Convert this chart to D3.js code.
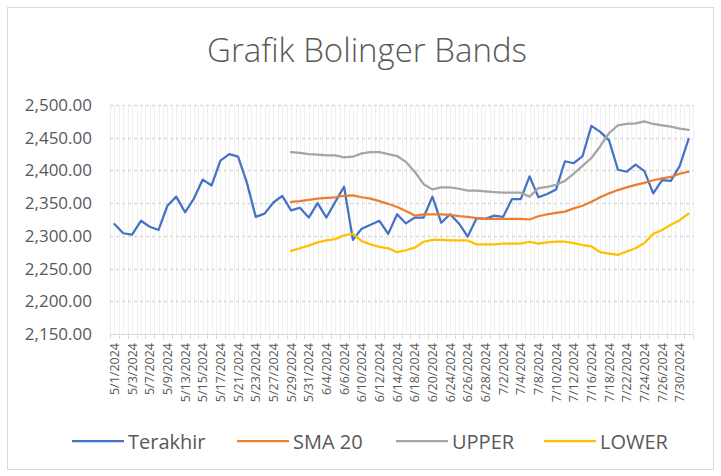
<!DOCTYPE html>
<html>
<head>
<meta charset="utf-8">
<script src="https://cdn.jsdelivr.net/npm/d3@7"></script>
<style>
  body { margin: 0; background: #fff; }
  svg { display: block; }
  text { font-family: "Open Sans", "Liberation Sans", sans-serif; fill: #595959; }
</style>
</head>
<body>
<div class="chart"></div>
<script>
// trading days, May - July 2024
var dates = ["5/1/2024","5/2/2024","5/3/2024","5/6/2024","5/7/2024","5/8/2024","5/9/2024","5/10/2024",
  "5/13/2024","5/14/2024","5/15/2024","5/16/2024","5/17/2024","5/20/2024","5/21/2024","5/22/2024",
  "5/23/2024","5/24/2024","5/27/2024","5/28/2024","5/29/2024","5/30/2024","5/31/2024","6/3/2024",
  "6/4/2024","6/5/2024","6/6/2024","6/7/2024","6/10/2024","6/11/2024","6/12/2024","6/13/2024",
  "6/14/2024","6/17/2024","6/18/2024","6/19/2024","6/20/2024","6/21/2024","6/24/2024","6/25/2024",
  "6/26/2024","6/27/2024","6/28/2024","7/1/2024","7/2/2024","7/3/2024","7/4/2024","7/5/2024",
  "7/8/2024","7/9/2024","7/10/2024","7/11/2024","7/12/2024","7/15/2024","7/16/2024","7/17/2024",
  "7/18/2024","7/19/2024","7/22/2024","7/23/2024","7/24/2024","7/25/2024","7/26/2024","7/29/2024",
  "7/30/2024","7/31/2024"];

var terakhir = [2318,2304,2302,2323,2314,2309,2346,2360,2336,2357,2386,2377,2415,2425,2421,2381,
  2329,2334,2351,2361,2339,2343,2328,2350,2328,2352,2375,2294,2311,2317,2323,2303,
  2333,2319,2328,2328,2360,2320,2333,2319,2299,2327,2326,2331,2329,2356,2356,2391,
  2359,2364,2371,2414,2411,2422,2468,2459,2446,2401,2398,2409,2399,2365,2385,2384,
  2407,2448];

// first 20 days have no moving average
var sma20 = [null,null,null,null,null,null,null,null,null,null,null,null,null,null,null,null,
  null,null,null,null,2352,2353,2355,2357,2358,2359,2361,2362,2359,2357,2353,2349,
  2344,2338,2331,2333,2333,2333,2332,2330,2329,2327,2326,2326,2326,2326,2326,2325,
  2330,2333,2335,2337,2342,2346,2352,2359,2365,2370,2374,2378,2381,2385,2388,2390,
  2395,2398];

var upper = [null,null,null,null,null,null,null,null,null,null,null,null,null,null,null,null,
  null,null,null,null,2428,2427,2425,2424,2423,2423,2420,2421,2426,2428,2428,2425,
  2422,2413,2398,2379,2371,2374,2374,2372,2369,2369,2368,2367,2366,2366,2366,2360,
  2373,2375,2378,2384,2395,2407,2419,2437,2457,2469,2471,2472,2475,2471,2469,2467,
  2464,2462];

var lower = [null,null,null,null,null,null,null,null,null,null,null,null,null,null,null,null,
  null,null,null,null,2277,2281,2285,2290,2293,2295,2301,2303,2292,2287,2283,2281,
  2275,2278,2282,2291,2294,2294,2293,2293,2293,2287,2287,2287,2288,2288,2288,2291,
  2288,2290,2291,2291,2289,2286,2284,2275,2273,2271,2276,2281,2289,2303,2309,2317,
  2324,2334];

var yTicks = [2150,2200,2250,2300,2350,2400,2450,2500];

var series = [
  {name: "Terakhir", values: terakhir, color: "#4472c4"},
  {name: "SMA 20", values: sma20, color: "#ed7d31"},
  {name: "UPPER", values: upper, color: "#a5a5a5"},
  {name: "LOWER", values: lower, color: "#ffc000"}
];

var width = 721, height = 476;
var plotL = 110, plotR = 693, plotT = 105, plotB = 334;

var svg = d3.select(".chart").append("svg")
  .attr("width", width)
  .attr("height", height);

// outer chart frame
svg.append("rect")
  .attr("x", 7.5).attr("y", 7.5)
  .attr("width", 706).attr("height", 462)
  .attr("fill", "#fff")
  .attr("stroke", "#d9d9d9");

svg.append("text")
  .attr("x", 367).attr("y", 62)
  .attr("text-anchor", "middle")
  .style("font-size", "33px")
  .style("font-weight", 300)
  .text("Grafik Bolinger Bands");

var x = d3.scaleBand().domain(dates).range([plotL, plotR]);
var y = d3.scaleLinear().domain([2150, 2500]).range([plotB, plotT]);

var bw = x.bandwidth();

// vertical gridlines (band edges and centers)
var vx = [];
dates.forEach(function(d) { vx.push(x(d)); vx.push(x(d) + bw / 2); });
vx.push(plotR);
svg.append("g").selectAll("line").data(vx).join("line")
  .attr("x1", function(d) { return Math.round(d) + 0.5; })
  .attr("x2", function(d) { return Math.round(d) + 0.5; })
  .attr("y1", plotT).attr("y2", plotB)
  .attr("stroke", "#efefef");

// horizontal dashed gridlines
svg.append("g").selectAll("line").data(yTicks.slice(1)).join("line")
  .attr("x1", plotL).attr("x2", plotR)
  .attr("y1", function(d) { return Math.round(y(d)) + 0.5; })
  .attr("y2", function(d) { return Math.round(y(d)) + 0.5; })
  .attr("stroke", "#d9d9d9")
  .attr("stroke-width", 1.3)
  .style("stroke-dasharray", "3,3");

// y axis labels
var yAxis = d3.axisLeft(y).tickValues(yTicks).tickSize(0).tickPadding(18)
  .tickFormat(d3.format(",.2f"));
var yG = svg.append("g").attr("transform", "translate(" + plotL + ",0)").call(yAxis);
yG.select(".domain").remove();
yG.selectAll("text").style("font-size", "17px").attr("fill", "#595959")
  .style("font-family", "'Open Sans', sans-serif");

// x axis: line, tick marks at band edges, every other label
var xG = svg.append("g");
xG.append("line")
  .attr("x1", plotL).attr("x2", plotR)
  .attr("y1", plotB + 0.5).attr("y2", plotB + 0.5)
  .attr("stroke", "#d9d9d9");
var edges = dates.map(function(d) { return x(d); }).concat([plotR]);
xG.selectAll("line.tk").data(edges).join("line")
  .attr("class", "tk")
  .attr("x1", function(d) { return Math.round(d) + 0.5; })
  .attr("x2", function(d) { return Math.round(d) + 0.5; })
  .attr("y1", plotB).attr("y2", plotB + 5)
  .attr("stroke", "#d9d9d9");
xG.selectAll("text").data(dates.filter(function(d, i) { return i % 2 === 0; })).join("text")
  .attr("transform", function(d) {
    return "translate(" + (x(d) + bw / 2 + 4.5) + "," + (plotB + 9) + ") rotate(-90)";
  })
  .attr("text-anchor", "end")
  .style("font-size", "12.5px")
  .text(function(d) { return d; });

// lines
var line = d3.line()
  .defined(function(d) { return d.v != null; })
  .x(function(d) { return x(d.date) + bw / 2; })
  .y(function(d) { return y(d.v); });

series.forEach(function(s) {
  var pts = dates.map(function(d, i) { return {date: d, v: s.values[i]}; });
  svg.append("path")
    .attr("d", line(pts))
    .attr("fill", "none")
    .attr("stroke", s.color)
    .attr("stroke-width", 2.25)
    .attr("stroke-linejoin", "round")
    .attr("stroke-linecap", "round");
});

// legend
var legX = [72, 237, 396, 544];
var leg = svg.append("g").selectAll("g").data(series).join("g")
  .attr("transform", function(d, i) { return "translate(" + legX[i] + ",441)"; });
leg.append("line")
  .attr("x1", 0).attr("x2", 52)
  .attr("stroke", function(d) { return d.color; })
  .attr("stroke-width", 2.25);
leg.append("text")
  .attr("x", 56).attr("y", 7.5)
  .style("font-size", "20px")
  .text(function(d) { return d.name; });
</script>
</body>
</html>
